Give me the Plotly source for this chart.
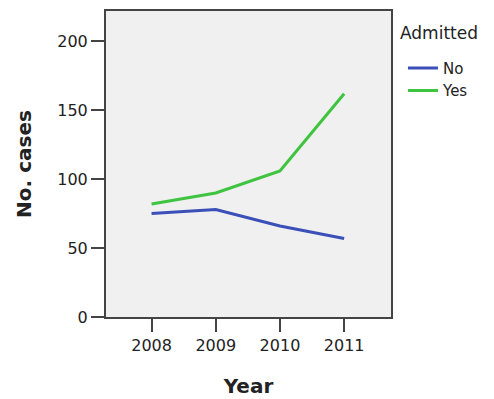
import plotly.graph_objects as go

years = [2008, 2009, 2010, 2011]
no_vals = [75, 78, 66, 57]
yes_vals = [82, 90, 106, 162]
y_ticks = [0, 50, 100, 150, 200]

FONT = "DejaVu Sans"
DARK = "#222222"

fig = go.Figure()
fig.add_trace(go.Scatter(x=years, y=no_vals, mode="lines", name="No",
                         line=dict(color="#3b4fb8", width=3)))
fig.add_trace(go.Scatter(x=years, y=yes_vals, mode="lines", name="Yes",
                         line=dict(color="#3ec43e", width=3)))

axis_common = dict(showline=True, linecolor="#444444", linewidth=2, mirror=True,
                   ticks="outside", ticklen=13, tickwidth=2, tickcolor="#444444",
                   showgrid=False, zeroline=False,
                   tickfont=dict(family=FONT, size=16, color=DARK))

fig.update_layout(
    width=486, height=391,
    margin=dict(l=98, r=103, t=1, b=82),
    plot_bgcolor="#f0f0f0", paper_bgcolor="white",
    xaxis=dict(range=[2007.29, 2011.73], tickvals=years, ticktext=[str(y) for y in years],
               title=dict(text="<b>Year</b>", font=dict(family=FONT, size=20, color=DARK),
                          standoff=25),
               **axis_common),
    yaxis=dict(range=[0, 222], tickvals=y_ticks,
               title=dict(text="<b>No. cases</b>", font=dict(family=FONT, size=20, color=DARK),
                          standoff=20),
               **axis_common),
    legend=dict(font=dict(family=FONT, size=15, color=DARK),
                x=1.042, y=0.867, xanchor="left", yanchor="top", tracegroupgap=0,
                itemwidth=30, bgcolor="rgba(0,0,0,0)"),
    annotations=[dict(text="Admitted", xref="paper", yref="paper", x=1.0246, y=0.9285,
                      xanchor="left", yanchor="middle", showarrow=False,
                      font=dict(family=FONT, size=17, color=DARK))],
)

fig.write_html("out.html")
